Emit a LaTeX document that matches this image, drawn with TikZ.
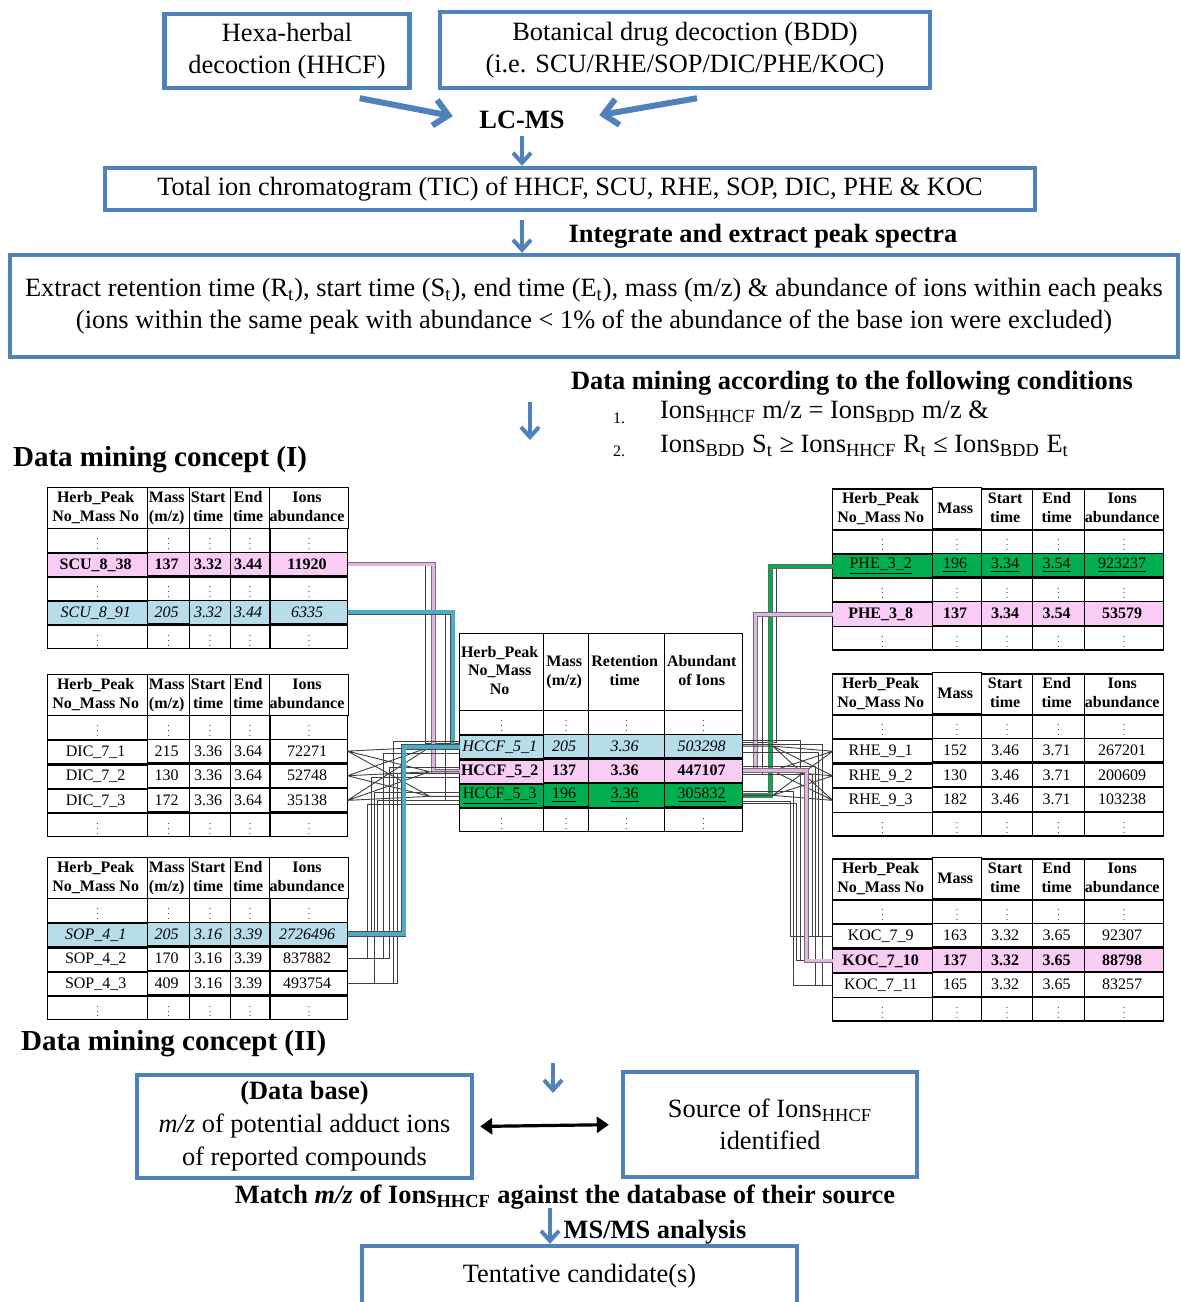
\documentclass[tikz,border=0pt]{standalone}
\usepackage{fontspec}
\setmainfont{Liberation Serif}
\usepackage{tikz}
\usetikzlibrary{positioning,arrows.meta}
\usetikzlibrary{matrix}

\definecolor{boxblue}{RGB}{79,129,189}
\definecolor{pinkrow}{RGB}{248,204,244}
\definecolor{pinkline}{RGB}{228,180,228}
\definecolor{bluerow}{RGB}{183,221,232}
\definecolor{greenrow}{RGB}{0,176,80}
\definecolor{linkblue}{RGB}{75,172,198}

\newcommand{\cellstack}[1]{\begin{tabular}{@{}c@{}}#1\end{tabular}}
\newcommand{\dotcell}{\textcolor{black!80}{\scalebox{0.62}{$\vdots$}}}
\newcommand{\tabfont}{\fontsize{8}{9.2}\selectfont}

\tikzset{
  flowbox/.style={draw=boxblue, line width=2.2pt, align=center, inner sep=2pt,
    font=\fontsize{13.2}{16}\selectfont},
  steplabel/.style={font=\bfseries\fontsize{13.2}{16}\selectfont},
  bigarrow/.style={draw=boxblue, line width=3pt, -{Straight Barb[length=7pt,width=13pt]}},
  flowarrow/.style={draw=boxblue, line width=2pt, -{Straight Barb[length=5pt,width=9pt]}},
  pairarrow/.style={draw=black, line width=1.6pt, {Triangle[length=6pt,width=8pt]}-{Triangle[length=6pt,width=8pt]},
    shorten <=3pt, shorten >=6pt},
  herbtable/.style={matrix of nodes, inner sep=0pt, outer sep=0pt,
    column sep=-0.7pt, row sep=-0.7pt,
    nodes={draw, line width=0.7pt, inner sep=0pt, outer sep=0pt, minimum height=11.8pt,
      align=center, font=\tabfont},
    row 1/.style={nodes={minimum height=20.5pt, font=\bfseries\tabfont}}},
  lefttable/.style={herbtable,
    column 1/.style={nodes={minimum width=50pt}},
    column 2/.style={nodes={minimum width=21pt}},
    column 3/.style={nodes={minimum width=20.5pt}},
    column 4/.style={nodes={minimum width=19.5pt}},
    column 5/.style={nodes={minimum width=38.5pt}}},
  righttable/.style={herbtable,
    column 1/.style={nodes={minimum width=50pt}},
    column 2/.style={nodes={minimum width=24.5pt}},
    column 3/.style={nodes={minimum width=25.5pt}},
    column 4/.style={nodes={minimum width=26pt}},
    column 5/.style={nodes={minimum width=39.5pt}}},
  midtable/.style={herbtable,
    row 1/.style={nodes={minimum height=38.5pt, font=\bfseries\tabfont}},
    column 1/.style={nodes={minimum width=42pt}},
    column 2/.style={nodes={minimum width=22.5pt}},
    column 3/.style={nodes={minimum width=38pt}},
    column 4/.style={nodes={minimum width=39pt}}},
  pinkcells/.style={nodes={fill=pinkrow, font=\bfseries\tabfont}},
  bluecells/.style={nodes={fill=bluerow, font=\itshape\tabfont}},
  greencells/.style={nodes={fill=greenrow}},
  thinlink/.style={draw=black!75, line width=0.45pt},
  pinklink/.style={draw=black!55, line width=0.35pt, double=pinkline, double distance=1.6pt},
  bluelink/.style={draw=black!70, line width=0.35pt, double=linkblue, double distance=2pt},
  greenlink/.style={draw=black!60, line width=0.35pt, double=greenrow, double distance=1.6pt}
}

\begin{document}
\begin{tikzpicture}[x=0.5pt, y=-0.5pt]
  \path[use as bounding box, fill=white] (0,0) rectangle (1180,1302);

  % LC-MS part
  \node[flowbox, minimum width=122.5pt, minimum height=37pt] (hexa) at (287,51) {Hexa-herbal\\decoction (HHCF)};
  \node[flowbox, minimum width=245pt, minimum height=38pt] (bdd) at (685,50) {Botanical drug decoction (BDD)\\(i.e. SCU/RHE/SOP/DIC/PHE/KOC)};
  \node[steplabel] (lcms) at (522,120) {LC-MS};
  \draw[bigarrow, shorten >=10pt] ([xshift=-26pt,yshift=-4pt]hexa.south east) -- (lcms.west);
  \draw[bigarrow, shorten >=14pt] ([xshift=6pt,yshift=-4pt]bdd.south) -- (lcms.east);
  \node[flowbox, minimum width=465pt, minimum height=21pt] (tic) at (570,189) {Total ion chromatogram (TIC) of HHCF, SCU, RHE, SOP, DIC, PHE \& KOC};
  \draw[flowarrow] (lcms.south) -- (lcms.south |- tic.north);
  \node[flowbox, minimum width=584pt, minimum height=51pt] (extract) at (594,306) {Extract retention time (R\textsubscript{t}), start time (S\textsubscript{t}), end time (E\textsubscript{t}), mass (m/z) \& abundance of ions within each peaks\\(ions within the same peak with abundance < 1\% of the abundance of the base ion were excluded)};
  \draw[flowarrow] ([yshift=-4pt]lcms.south |- tic.south) -- (lcms.south |- extract.north);
  \node[steplabel] (integrate) at (763,236) {Integrate and extract peak spectra};

  % mining conditions
  \node[steplabel] (mining) at (852,383) {Data mining according to the following conditions};
  \node[font=\fontsize{8}{9}\selectfont] (numA) at (619,418) {1.};
  \node[font=\fontsize{8}{9}\selectfont] (numB) at (619,451) {2.};
  \node[anchor=west, font=\fontsize{13.2}{16}\selectfont] (condA) at (653,412) {Ions\textsubscript{HHCF} m/z = Ions\textsubscript{BDD} m/z \&};
  \node[anchor=west, font=\fontsize{13.2}{16}\selectfont] (condB) at (653,446) {Ions\textsubscript{BDD} S\textsubscript{t} ≥ Ions\textsubscript{HHCF} R\textsubscript{t} ≤ Ions\textsubscript{BDD} E\textsubscript{t}};
  \coordinate (mineTop) at (530,402);
  \coordinate (mineEnd) at (530,440);
  \draw[flowarrow] (mineTop) -- (mineEnd);
  \node[anchor=west, font=\bfseries\fontsize{14.5}{17}\selectfont] (conceptI) at (6,460) {Data mining concept (I)};

  % tables of the herbs
  \matrix (scu) [lefttable, anchor=north west, row 3/.style=pinkcells, row 5/.style=bluecells] at (47,487) {
    \cellstack{Herb\_Peak\\No\_Mass No} & \cellstack{Mass\\(m/z)} & \cellstack{Start\\time} & \cellstack{End\\time} & \cellstack{Ions\\abundance} \\
    \dotcell & \dotcell & \dotcell & \dotcell & \dotcell \\
    SCU\_8\_38 & 137 & 3.32 & 3.44 & 11920 \\
    \dotcell & \dotcell & \dotcell & \dotcell & \dotcell \\
    SCU\_8\_91 & 205 & 3.32 & 3.44 & 6335 \\
    \dotcell & \dotcell & \dotcell & \dotcell & \dotcell \\
  };
  \matrix (dic) [lefttable, anchor=north west] at (47,674) {
    \cellstack{Herb\_Peak\\No\_Mass No} & \cellstack{Mass\\(m/z)} & \cellstack{Start\\time} & \cellstack{End\\time} & \cellstack{Ions\\abundance} \\
    \dotcell & \dotcell & \dotcell & \dotcell & \dotcell \\
    DIC\_7\_1 & 215 & 3.36 & 3.64 & 72271 \\
    DIC\_7\_2 & 130 & 3.36 & 3.64 & 52748 \\
    DIC\_7\_3 & 172 & 3.36 & 3.64 & 35138 \\
    \dotcell & \dotcell & \dotcell & \dotcell & \dotcell \\
  };
  \matrix (sop) [lefttable, anchor=north west, row 3/.style=bluecells] at (47,857) {
    \cellstack{Herb\_Peak\\No\_Mass No} & \cellstack{Mass\\(m/z)} & \cellstack{Start\\time} & \cellstack{End\\time} & \cellstack{Ions\\abundance} \\
    \dotcell & \dotcell & \dotcell & \dotcell & \dotcell \\
    SOP\_4\_1 & 205 & 3.16 & 3.39 & 2726496 \\
    SOP\_4\_2 & 170 & 3.16 & 3.39 & 837882 \\
    SOP\_4\_3 & 409 & 3.16 & 3.39 & 493754 \\
    \dotcell & \dotcell & \dotcell & \dotcell & \dotcell \\
  };
  \matrix (mid) [midtable, anchor=north west, row 3/.style=bluecells, row 4/.style=pinkcells, row 5/.style=greencells] at (459,633) {
    \cellstack{Herb\_Peak\\No\_Mass\\No} & \cellstack{Mass\\(m/z)} & \cellstack{Retention\\time} & \cellstack{Abundant\\of Ions} \\
    \dotcell & \dotcell & \dotcell & \dotcell \\
    HCCF\_5\_1 & 205 & 3.36 & 503298 \\
    HCCF\_5\_2 & 137 & 3.36 & 447107 \\
    \underline{HCCF\_5\_3} & \underline{196} & \underline{3.36} & \underline{305832} \\
    \dotcell & \dotcell & \dotcell & \dotcell \\
  };
  \matrix (phe) [righttable, anchor=north west, row 3/.style=greencells, row 5/.style=pinkcells] at (832,487) {
    \cellstack{Herb\_Peak\\No\_Mass No} & Mass & \cellstack{Start\\time} & \cellstack{End\\time} & \cellstack{Ions\\abundance} \\
    \dotcell & \dotcell & \dotcell & \dotcell & \dotcell \\
    \underline{PHE\_3\_2} & \underline{196} & \underline{3.34} & \underline{3.54} & \underline{923237} \\
    \dotcell & \dotcell & \dotcell & \dotcell & \dotcell \\
    PHE\_3\_8 & 137 & 3.34 & 3.54 & 53579 \\
    \dotcell & \dotcell & \dotcell & \dotcell & \dotcell \\
  };
  \matrix (rhe) [righttable, anchor=north west] at (832,672) {
    \cellstack{Herb\_Peak\\No\_Mass No} & Mass & \cellstack{Start\\time} & \cellstack{End\\time} & \cellstack{Ions\\abundance} \\
    \dotcell & \dotcell & \dotcell & \dotcell & \dotcell \\
    RHE\_9\_1 & 152 & 3.46 & 3.71 & 267201 \\
    RHE\_9\_2 & 130 & 3.46 & 3.71 & 200609 \\
    RHE\_9\_3 & 182 & 3.46 & 3.71 & 103238 \\
    \dotcell & \dotcell & \dotcell & \dotcell & \dotcell \\
  };
  \matrix (koc) [righttable, anchor=north west, row 4/.style=pinkcells] at (832,857) {
    \cellstack{Herb\_Peak\\No\_Mass No} & Mass & \cellstack{Start\\time} & \cellstack{End\\time} & \cellstack{Ions\\abundance} \\
    \dotcell & \dotcell & \dotcell & \dotcell & \dotcell \\
    KOC\_7\_9 & 163 & 3.32 & 3.65 & 92307 \\
    KOC\_7\_10 & 137 & 3.32 & 3.65 & 88798 \\
    KOC\_7\_11 & 165 & 3.32 & 3.65 & 83257 \\
    \dotcell & \dotcell & \dotcell & \dotcell & \dotcell \\
  };

  % links on the left
  \draw[thinlink] (scu-3-5.east) -- ++(78,0) |- ([yshift=2pt]mid-3-1.west);
  \draw[pinklink] (scu-3-5.east) -- ++(86,0) |- (mid-4-1.west);
  \draw[thinlink] (scu-5-5.east) -- ++(98,0) |- ([yshift=-2pt]mid-5-1.west);
  \draw[bluelink] (scu-5-5.east) -- ++(105,0) |- (mid-3-1.west);
  \draw[thinlink] (dic-3-5.east) -- ([xshift=-15pt]mid-3-1.west) -- (mid-3-1.west)
    (dic-3-5.east) -- ([xshift=-15pt]mid-4-1.west) -- (mid-4-1.west)
    (dic-3-5.east) -- ([xshift=-15pt]mid-5-1.west) -- (mid-5-1.west)
    (dic-4-5.east) -- ([xshift=-15pt]mid-3-1.west)
    (dic-4-5.east) -- ([xshift=-15pt]mid-4-1.west)
    (dic-4-5.east) -- ([xshift=-15pt]mid-5-1.west)
    (dic-5-5.east) -- ([xshift=-15pt]mid-3-1.west)
    (dic-5-5.east) -- ([xshift=-15pt]mid-4-1.west)
    (dic-5-5.east) -- ([xshift=-15pt]mid-5-1.west);
  \draw[thinlink] (sop-3-5.east) -- ++(24,0) |- ([yshift=-3pt]mid-4-1.west)
    (sop-3-5.east) -- ++(30,0) |- ([yshift=-2pt]mid-5-1.west)
    (sop-4-5.east) -- ++(36,0) |- ([yshift=-3pt]mid-3-1.west)
    (sop-4-5.east) -- ++(42,0) |- ([yshift=2pt]mid-4-1.west)
    (sop-4-5.east) -- ++(20,0) |- ([yshift=-4pt]mid-5-1.west)
    (sop-5-5.east) -- ++(46,0) |- ([yshift=3pt]mid-3-1.west)
    (sop-5-5.east) -- ++(50,0) |- ([yshift=-1pt]mid-4-1.west)
    (sop-5-5.east) -- ++(27,0) |- ([yshift=2pt]mid-5-1.west);
  \draw[bluelink] (sop-3-5.east) -- ++(56,0) |- (mid-3-1.west);

  % links on the right
  \draw[thinlink] (phe-3-1.west) -- ++(-56,0) |- ([yshift=2pt]mid-3-4.east);
  \draw[greenlink] (phe-3-1.west) -- ++(-62,0) |- (mid-5-4.east);
  \draw[thinlink] (phe-5-1.west) -- ++(-70,0) |- ([yshift=-2pt]mid-4-4.east);
  \draw[pinklink] (phe-5-1.west) -- ++(-77,0) |- (mid-4-4.east);
  \draw[thinlink] (rhe-3-1.west) -- ([xshift=15pt]mid-3-4.east) -- (mid-3-4.east)
    (rhe-3-1.west) -- ([xshift=15pt]mid-4-4.east) -- (mid-4-4.east)
    (rhe-3-1.west) -- ([xshift=15pt]mid-5-4.east) -- (mid-5-4.east)
    (rhe-4-1.west) -- ([xshift=15pt]mid-3-4.east)
    (rhe-4-1.west) -- ([xshift=15pt]mid-4-4.east)
    (rhe-4-1.west) -- ([xshift=15pt]mid-5-4.east)
    (rhe-5-1.west) -- ([xshift=15pt]mid-3-4.east)
    (rhe-5-1.west) -- ([xshift=15pt]mid-4-4.east)
    (rhe-5-1.west) -- ([xshift=15pt]mid-5-4.east);
  \draw[thinlink] (koc-3-1.west) -- ++(-14,0) |- ([yshift=-3pt]mid-3-4.east)
    (koc-3-1.west) -- ++(-20,0) |- ([yshift=-2pt]mid-4-4.east)
    (koc-3-1.west) -- ++(-42,0) |- ([yshift=-3pt]mid-5-4.east)
    (koc-4-1.west) -- ++(-32,0) |- ([yshift=3pt]mid-3-4.east)
    (koc-4-1.west) -- ++(-36,0) |- ([yshift=-4pt]mid-5-4.east)
    (koc-5-1.west) -- ++(-10,0) |- ([yshift=1pt]mid-3-4.east)
    (koc-5-1.west) -- ++(-17,0) |- ([yshift=2pt]mid-4-4.east)
    (koc-5-1.west) -- ++(-39,0) |- ([yshift=2pt]mid-5-4.east);
  \draw[pinklink] (koc-4-1.west) -- ++(-26,0) |- (mid-4-4.east);

  % second concept
  \node[anchor=west, font=\bfseries\fontsize{14.5}{17}\selectfont] (conceptII) at (14,1044) {Data mining concept (II)};
  \coordinate (twoTop) at (553,1063);
  \coordinate (twoEnd) at (553,1093);
  \draw[flowarrow] (twoTop) -- (twoEnd);
  \node[flowbox, minimum width=167.5pt, minimum height=51.5pt, font=\fontsize{13.2}{16.5}\selectfont] (database) at (304.5,1126.5) {\textbf{(Data base)}\\\textit{m/z} of potential adduct ions\\of reported compounds};
  \node[flowbox, minimum width=147pt, minimum height=52.5pt] (source) at (770,1124.5) {Source of Ions\textsubscript{HHCF}\\identified};
  \draw[pairarrow] (database.east) -- (source.west);
  \node[steplabel] (match) at (565,1197) {Match \textit{m/z} of Ions\textsubscript{HHCF} against the database of their source};
  \node[flowbox, minimum width=217.5pt, minimum height=30pt] (tentative) at (579.5,1276) {Tentative candidate(s)};
  \coordinate (msTop) at (550,1208);
  \draw[flowarrow] (msTop) -- (msTop |- tentative.north);
  \node[steplabel] (msms) at (655,1232) {MS/MS analysis};
\end{tikzpicture}
\end{document}
